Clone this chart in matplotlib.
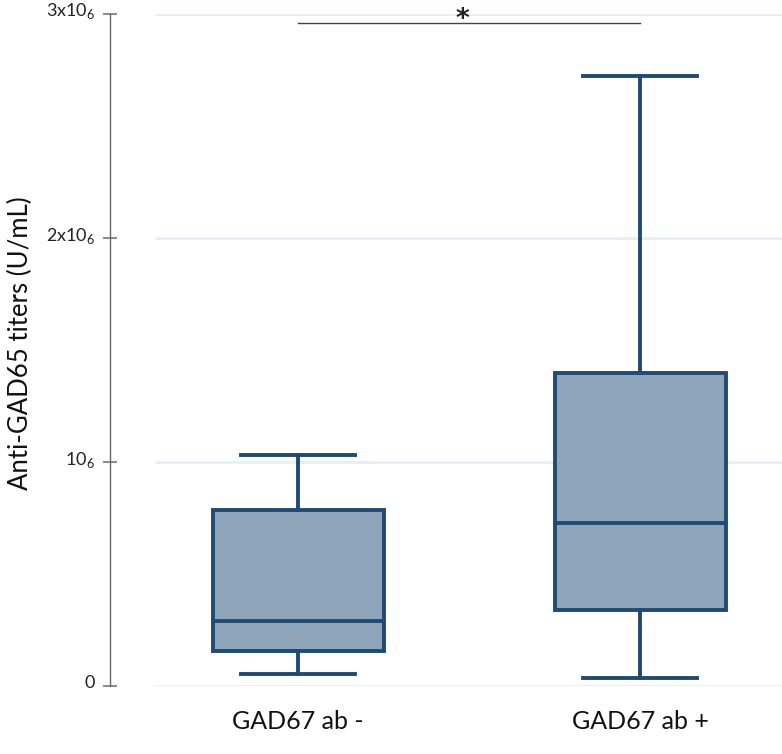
import matplotlib
matplotlib.use('Agg')
import matplotlib.pyplot as plt
import matplotlib.transforms as mtransforms

groups = ['GAD67 ab -', 'GAD67 ab +']
whislo = [0.054e6, 0.036e6]
q1 = [0.156e6, 0.339e6]
med = [0.290e6, 0.728e6]
q3 = [0.786e6, 1.397e6]
whishi = [1.031e6, 2.723e6]
yticks = [0, 1e6, 2e6, 3e6]
ytick_labels = ['0', '10$_\\mathregular{6}$', '2x10$_\\mathregular{6}$', '3x10$_\\mathregular{6}$']
sig_text = '*'

plt.rcParams['font.family'] = 'Lato'
plt.rcParams['mathtext.fontset'] = 'custom'
plt.rcParams['mathtext.rm'] = 'Lato'

edge = '#1f4a75'
face = '#8ea5ba'

fig = plt.figure(figsize=(7.82, 7.54), dpi=100)
ax = fig.add_axes([110 / 782, 1 - 686 / 754, 1 - 110 / 782, (686 - 14) / 754])

stats = [dict(whislo=whislo[i], q1=q1[i], med=med[i], q3=q3[i], whishi=whishi[i], fliers=[])
         for i in range(len(groups))]

# light gridlines start a bit right of the axis
ax.hlines(yticks, 0.582, 2.415, color='#e6eff1', lw=2, zorder=0)

ax.bxp(stats, positions=[1, 2], widths=0.5, capwidths=0.333, patch_artist=True,
       showfliers=False,
       boxprops=dict(facecolor=face, edgecolor=edge, lw=2.8),
       medianprops=dict(color=edge, lw=2.8),
       whiskerprops=dict(color=edge, lw=2.8),
       capprops=dict(color=edge, lw=2.8))

ax.set_xlim(0.4503, 2.415)
ax.set_ylim(0, 3e6)

for s in ['top', 'right', 'bottom']:
    ax.spines[s].set_visible(False)
ax.spines['left'].set_color('#666666')
ax.spines['left'].set_linewidth(1)

ax.set_yticks(yticks)
ax.set_yticklabels(ytick_labels, fontsize=13, color='#222222')
ax.tick_params(axis='y', direction='inout', length=9.5, width=1.2, color='#777777', pad=6)
shift = mtransforms.ScaledTranslation(0, 5 / 100, fig.dpi_scale_trans)
for lab in ax.get_yticklabels():
    lab.set_transform(lab.get_transform() + shift)
ax.set_xticks([1, 2])
ax.set_xticklabels(groups, fontsize=18, color='#111111')
ax.tick_params(axis='x', length=0, pad=17)

# significance bar
ax.plot([1, 2], [2.96e6, 2.96e6], color='#444444', lw=1, clip_on=False)
ax.text(1.48, 2.975e6, sig_text, ha='center', va='center', fontsize=19, fontweight='bold',
        family='DejaVu Sans', color='#222222', clip_on=False)

fig.text(20 / 782, 1 - 343 / 754, 'Anti-GAD65 titers (U/mL)', rotation=90,
         ha='center', va='center', fontsize=18.5, color='#111111')

fig.savefig('out.png', dpi=100)
